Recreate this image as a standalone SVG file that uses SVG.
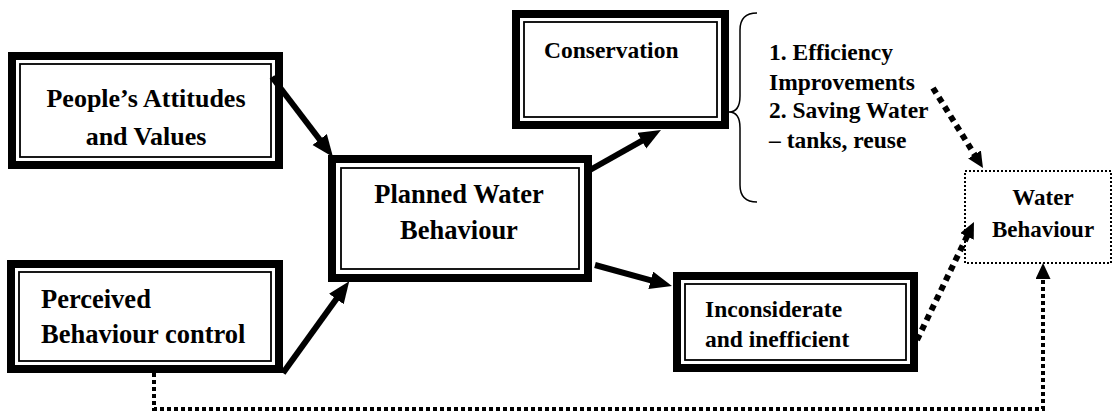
<svg xmlns="http://www.w3.org/2000/svg" width="1115" height="414" viewBox="0 0 1115 414">
<style>
.outer{fill:#fff;stroke:#000;stroke-width:8}
.inner{fill:none;stroke:#000;stroke-width:1.8}
.t{font-family:"Liberation Serif","Times New Roman",Tinos,serif;font-weight:bold;fill:#000}
.solid{stroke:#000;stroke-width:6;fill:none}
.dot{stroke:#000;stroke-width:6;stroke-dasharray:6 5;fill:none}
.dots{stroke:#000;stroke-width:4;stroke-dasharray:4 3;fill:none}
</style>
<defs>
<marker id="ah" markerUnits="userSpaceOnUse" markerWidth="24" markerHeight="20" refX="4" refY="9" orient="auto">
<path d="M0,0 L22,9 L0,18 z" fill="#000"/>
</marker>
<marker id="dh" markerUnits="userSpaceOnUse" markerWidth="18" markerHeight="16" refX="3" refY="7.5" orient="auto">
<path d="M0,0 L16,7.5 L0,15 z" fill="#000"/>
</marker>
</defs>
<g id="people">
<rect class="outer" x="12" y="56" width="267" height="109"/>
<rect class="inner" x="20" y="64" width="251" height="93"/>
<text class="t" font-size="26" text-anchor="middle" x="146" y="107">People’s Attitudes</text>
<text class="t" font-size="26" text-anchor="middle" x="146" y="145">and Values</text>
</g>
<g id="perceived">
<rect class="outer" x="11" y="264" width="268" height="105"/>
<rect class="inner" x="19" y="272" width="252" height="89"/>
<text class="t" font-size="26.5" x="41" y="308">Perceived</text>
<text class="t" font-size="26.5" x="41" y="343">Behaviour control</text>
</g>
<g id="planned">
<rect class="outer" x="332" y="159" width="256" height="119"/>
<rect class="inner" x="341" y="168" width="238" height="101"/>
<text class="t" font-size="26.5" text-anchor="middle" x="459" y="203">Planned Water</text>
<text class="t" font-size="26.5" text-anchor="middle" x="459" y="239">Behaviour</text>
</g>
<g id="conservation">
<rect class="outer" x="516" y="14" width="209" height="111"/>
<rect class="inner" x="524" y="22" width="193" height="95"/>
<text class="t" font-size="23.5" x="544" y="58">Conservation</text>
</g>
<g id="notes">
<text class="t" font-size="23.5" x="769" y="60">1. Efficiency</text>
<text class="t" font-size="23.5" x="769" y="90">Improvements</text>
<text class="t" font-size="23.5" x="769" y="118">2. Saving Water</text>
<text class="t" font-size="23.5" x="769" y="148">– tanks, reuse</text>
</g>
<g id="inconsiderate">
<rect class="outer" x="677" y="276" width="237" height="92"/>
<rect class="inner" x="685" y="284" width="221" height="76"/>
<text class="t" font-size="23.5" x="705" y="317">Inconsiderate</text>
<text class="t" font-size="23.5" x="705" y="347">and inefficient</text>
</g>
<g id="water">
<rect x="965" y="171" width="146" height="92" fill="none" stroke="#000" stroke-width="2" stroke-dasharray="2 2"/>
<text class="t" font-size="23" text-anchor="middle" x="1043" y="205">Water</text>
<text class="t" font-size="23" text-anchor="middle" x="1043" y="237">Behaviour</text>
</g>
<g id="connectors">
<line class="solid" x1="272" y1="77" x2="322.1" y2="142.7" marker-end="url(#ah)"/>
<line class="solid" x1="283" y1="373" x2="338.7" y2="295.8" marker-end="url(#ah)"/>
<line class="solid" x1="590" y1="170" x2="645.3" y2="138.8" marker-end="url(#ah)"/>
<line class="solid" x1="595" y1="265" x2="654.6" y2="281.3" marker-end="url(#ah)"/>
<line class="dot" x1="933" y1="88" x2="976.1" y2="157" marker-end="url(#dh)"/>
<line class="dot" x1="917" y1="340" x2="968.3" y2="233.7" marker-end="url(#dh)"/>
<path class="dots" d="M154,373 L154,409 L1043,409 L1043,276" marker-end="url(#dh)"/>
<path d="M757,13 Q740,13 740,30 L740,96 Q740,112 729,112 Q740,112 740,128 L740,185 Q740,202 757,202" fill="none" stroke="#000" stroke-width="1.5"/>
</g>
</svg>
